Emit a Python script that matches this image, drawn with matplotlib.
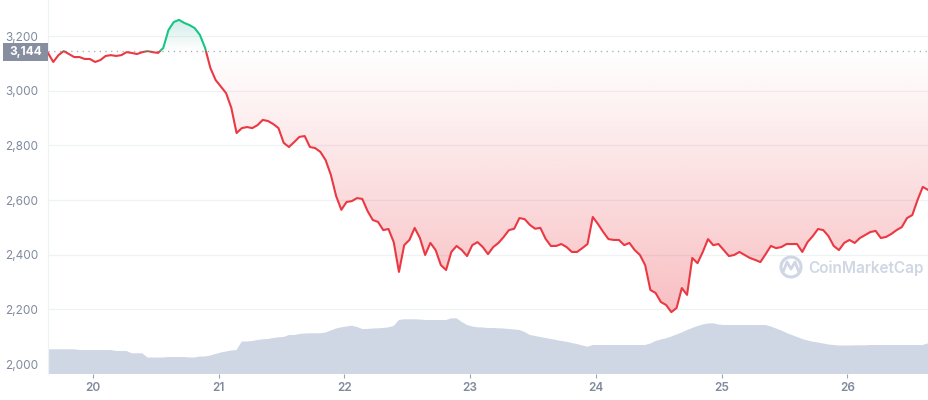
import numpy as np
import matplotlib
matplotlib.use('Agg')
import matplotlib.pyplot as plt
from matplotlib.patches import Polygon, Rectangle, Circle
from matplotlib.lines import Line2D
import matplotlib.transforms as mtransforms

# ---------------- data ----------------
start_day = 19 + 15.4 / 24          # first sample (day of month, fractional)
step_hours = 1.0

price = [3138, 3105, 3130, 3145, 3134, 3123, 3123, 3116, 3116, 3105, 3112, 3127, 3130, 3127, 3130,
         3141, 3138, 3134, 3141, 3145, 3141, 3138, 3156, 3222, 3251, 3259, 3248, 3240, 3229, 3204,
         3156, 3083, 3039, 3015, 2991, 2937, 2845, 2863, 2867, 2863, 2874, 2893, 2889, 2878, 2863,
         2809, 2794, 2812, 2831, 2834, 2794, 2790, 2776, 2746, 2692, 2615, 2564, 2593, 2596, 2607,
         2604, 2560, 2527, 2520, 2490, 2494, 2446, 2337, 2435, 2454, 2498, 2461, 2399, 2443, 2417,
         2362, 2344, 2410, 2432, 2417, 2395, 2435, 2446, 2428, 2402, 2428, 2443, 2465, 2490, 2495,
         2534, 2530, 2509, 2495, 2498, 2458, 2432, 2432, 2439, 2428, 2410, 2410, 2424, 2439, 2538,
         2512, 2483, 2457, 2454, 2454, 2435, 2443, 2417, 2399, 2362, 2271, 2260, 2227, 2216, 2190,
         2205, 2278, 2253, 2388, 2369, 2410, 2457, 2435, 2439, 2417, 2395, 2399, 2410, 2399, 2388,
         2381, 2373, 2402, 2432, 2424, 2428, 2439, 2439, 2439, 2410, 2446, 2468, 2494, 2490, 2468,
         2432, 2417, 2443, 2454, 2443, 2461, 2472, 2483, 2487, 2461, 2465, 2476, 2490, 2501, 2534,
         2545, 2600, 2648, 2637]

# relative traded volume (arbitrary units)
volume = [24.7, 24.7, 24.7, 24.7, 24.7, 24.7, 24, 24, 24, 24, 24, 24, 24, 23, 23, 23, 20.7, 20.7,
          20.7, 16.5, 16.5, 16.5, 16.5, 17, 17, 17, 17, 16.5, 16.5, 17.5, 17.5, 18.5, 20, 21.5, 22.5,
          23.5, 24, 32.5, 32.5, 33, 34, 34.7, 35, 36, 36.7, 37, 39, 39, 40, 40.5, 40.7, 40.7, 40.7,
          41.5, 43.5, 45.5, 46.7, 47.5, 48.3, 47, 45, 45, 45.5, 45.7, 46, 46.7, 48, 54, 54.7, 54.7,
          54.7, 54.5, 54, 54, 54, 54, 54, 55.7, 55.7, 52, 49, 47.5, 46.7, 46.5, 46, 46, 45.7, 45.5,
          45, 44.5, 44, 42, 39, 38, 37, 36, 35, 34, 33, 32.3, 31, 30, 28.5, 27.3, 29, 29, 29, 29, 29,
          29, 29, 29, 29, 29, 29, 30.5, 33, 34.5, 35.7, 37.5, 39.5, 41.5, 44, 46, 48, 49.5, 50.5,
          50.7, 49.5, 49, 49, 49, 49, 49, 49, 49, 49, 49, 47.5, 45.5, 43.5, 41, 39, 37, 35, 33.5,
          32.3, 31.5, 30.5, 29.5, 29, 28.5, 28.5, 28.5, 28.7, 28.7, 28.7, 29, 29, 29, 29, 29, 29,
          29, 29, 29, 29, 29, 30.7]
volume_axis_max = 374.0

baseline_price = 3144
baseline_label = "3,144"
y_ticks = [2000, 2200, 2400, 2600, 2800, 3000, 3200]
x_ticks = [20, 21, 22, 23, 24, 25, 26]
x_labels = ["20", "21", "22", "23", "24", "25", "26"]
watermark = "CoinMarketCap"

# ---------------- style ----------------
W, H = 929, 400
RED = '#ea3943'
GREEN = '#16c784'
GRID = '#eff2f5'
LABEL = '#808a9d'
VOL = '#cfd6e4'
FONT = ['Inter', 'DejaVu Sans']
plt.rcParams['font.family'] = FONT

t = start_day + np.arange(len(price)) * step_hours / 24.0
p = np.array(price, dtype=float)
v = np.array(volume, dtype=float)
x0, x1 = t[0], t[-1]
ylo, yhi = 1963.6, 3331.7

fig = plt.figure(figsize=(W / 100, H / 100), dpi=100)
ax = fig.add_axes([48 / W, 26 / H, 880 / W, 374 / H])
ax.set_xlim(x0, x1)
ax.set_ylim(ylo, yhi)

# grid
for yt in y_ticks:
    ax.axhline(yt, color=GRID, lw=0.9, zorder=0)
for s in ['top', 'right', 'bottom']:
    ax.spines[s].set_visible(False)
ax.spines['left'].set_color(GRID)
ax.spines['left'].set_linewidth(0.9)

ax.set_yticks(y_ticks)
ax.set_yticklabels([f"{y:,}" for y in y_ticks])
ax.tick_params(axis='y', length=0, pad=7, labelsize=8.5, labelcolor=LABEL)
ax.set_xticks(x_ticks)
ax.set_xticklabels(x_labels, fontweight='semibold')
ax.tick_params(axis='x', length=3, width=0.8, color='#9aa3b5', pad=3, labelsize=8.5,
               labelcolor=LABEL)

# volume area (bottom band, own scale in axes fraction)
blend = mtransforms.blended_transform_factory(ax.transData, ax.transAxes)
vv = v / volume_axis_max
vol_poly = np.column_stack([np.r_[t, t[::-1]], np.r_[vv, np.zeros_like(vv)]])
ax.add_patch(Polygon(vol_poly, closed=True, facecolor=VOL, edgecolor='none', zorder=1,
                     transform=blend))

# gradient fills
below = np.minimum(p, baseline_price)
above = np.maximum(p, baseline_price)
poly_below = np.column_stack([np.r_[t, t[::-1]], np.r_[below, np.full_like(below, baseline_price)]])
poly_above = np.column_stack([np.r_[t, t[::-1]], np.r_[above, np.full_like(above, baseline_price)]])

ys = np.linspace(baseline_price, ylo, 300)
a = np.clip((baseline_price - ys) / (baseline_price - 2170) * 0.33, 0, 0.4)
rgb = np.array(matplotlib.colors.to_rgb(RED))
img = np.zeros((300, 1, 4))
img[:, 0, :3] = rgb
img[:, 0, 3] = a
im = ax.imshow(img, extent=[x0, x1, ylo, baseline_price], aspect='auto', origin='upper',
               zorder=2, interpolation='bilinear')
clip_b = Polygon(poly_below, closed=True, transform=ax.transData, facecolor='none')
im.set_clip_path(clip_b)

ys2 = np.linspace(yhi, baseline_price, 300)
a2 = np.clip((ys2 - baseline_price) / (3260 - baseline_price) * 0.2, 0, 0.25)
img2 = np.zeros((300, 1, 4))
img2[:, 0, :3] = matplotlib.colors.to_rgb('#1a9f8a')
img2[:, 0, 3] = a2
im2 = ax.imshow(img2, extent=[x0, x1, baseline_price, yhi], aspect='auto', origin='upper',
                zorder=2, interpolation='bilinear')
clip_a = Polygon(poly_above, closed=True, transform=ax.transData, facecolor='none')
im2.set_clip_path(clip_a)
ax.set_xlim(x0, x1)
ax.set_ylim(ylo, yhi)

# baseline dotted
ax.axhline(baseline_price, color='#a3acbd', lw=1.0, linestyle=(0, (0.9, 3.2)), zorder=3)

# price line: red below baseline, green above
lr, = ax.plot(t, p, color=RED, lw=1.5, zorder=4, solid_joinstyle='round')
lg, = ax.plot(t, p, color=GREEN, lw=1.5, zorder=4, solid_joinstyle='round')
rect_below = Rectangle((x0 - 1, ylo - 500), x1 - x0 + 2, baseline_price - ylo + 500,
                       transform=ax.transData, facecolor='none')
rect_above = Rectangle((x0 - 1, baseline_price), x1 - x0 + 2, 1000,
                       transform=ax.transData, facecolor='none')
lr.set_clip_path(rect_below)
lg.set_clip_path(rect_above)


def px(x, y):
    return x / W, 1 - y / H


# current price label box
bx, by = px(2.7, 60.7)
fig.patches.append(Rectangle((bx, by), 45.3 / W, 18 / H, transform=fig.transFigure,
                             facecolor='#868ea0', edgecolor='none', zorder=5))
tx, ty = px(25.3, 51.7)
fig.text(tx, ty, baseline_label, color='white', fontsize=8.5, fontweight='bold',
         ha='center', va='center', zorder=6)

# watermark
cx, cy = px(791, 267)
fig.patches.append(Circle((791, H - 267), 10, transform=mtransforms.IdentityTransform(),
                          facecolor='none', edgecolor=VOL, lw=2.2, zorder=5))
wx = np.array([783.5, 787, 791, 795, 798.5])
wy = np.array([271, 262, 269, 262, 271])
fig.lines.append(Line2D(wx / W, 1 - wy / H, transform=fig.transFigure, color=VOL, lw=2.0,
                        solid_joinstyle='round', solid_capstyle='round', zorder=5))
wtx, wty = px(808, 268)
fig.text(wtx, wty, watermark, color=VOL, fontsize=11, fontweight='semibold',
         ha='left', va='center', zorder=5)

fig.savefig('out.png', dpi=100)
